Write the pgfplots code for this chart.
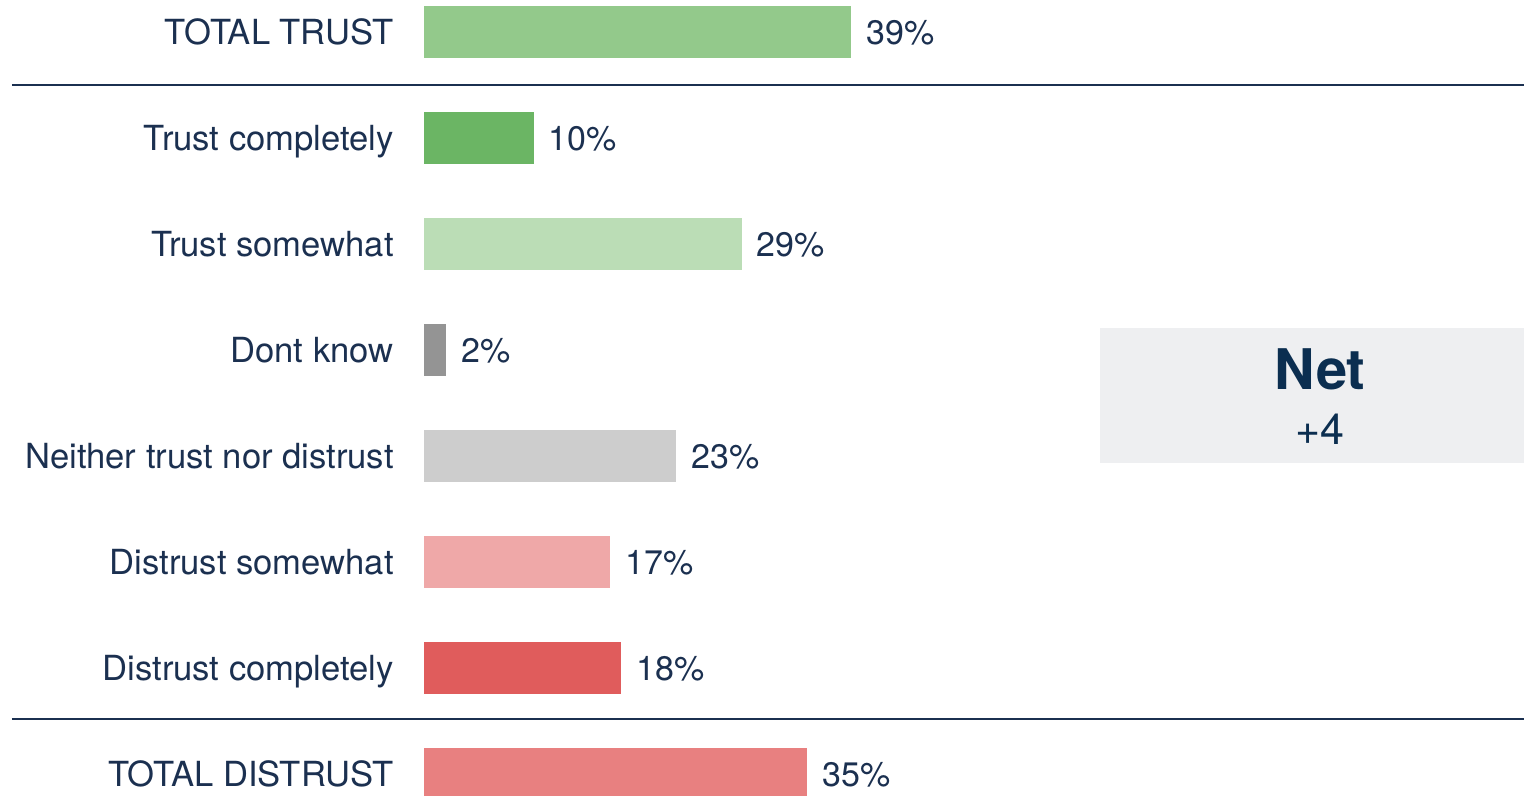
\documentclass[border=0pt]{standalone}
\usepackage{pgfplots}
\pgfplotsset{compat=1.18}
\usepackage{fontspec}
\setmainfont{TeX Gyre Heros}
\definecolor{txt}{HTML}{1B3050}
\definecolor{nettxt}{HTML}{0B2E50}
\definecolor{netbg}{HTML}{EEEFF1}
\definecolor{cTT}{HTML}{93C98B}
\definecolor{cTC}{HTML}{6BB564}
\definecolor{cTS}{HTML}{BBDDB6}
\definecolor{cDK}{HTML}{949494}
\definecolor{cNE}{HTML}{CDCDCD}
\definecolor{cDS}{HTML}{EFA8A8}
\definecolor{cDC}{HTML}{E05C5C}
\definecolor{cTD}{HTML}{E88080}
\tikzset{catlab/.style={anchor=east, inner sep=0pt, font=\fontsize{17.3pt}{20pt}\selectfont, text=txt, text height=12.4pt, text depth=0pt}}
\pgfplotsset{mybar/.style={xbar, bar width=0.49, bar shift=0pt, draw=none, point meta=x,
    nodes near coords={\pgfmathprintnumber{\pgfplotspointmeta}\%},
    every node near coord/.style={anchor=west, inner sep=0pt, xshift=7.5pt,
      font=\fontsize{17pt}{20pt}\selectfont, text=txt, text height=12.2pt, text depth=0pt}}}
\begin{document}
\begin{tikzpicture}
\begin{axis}[
  scale only axis, width=762pt, height=398pt,
  xmin=-38.721, xmax=100.457,
  ymin=-0.3019, ymax=7.2075, y dir=reverse,
  hide axis, clip=false,
  /pgf/number format/assume math mode=true,
]
\fill[netbg] (axis cs:61.74,2.792) rectangle (axis cs:100.457,4.066);
\node[anchor=base, inner sep=0pt, text=nettxt, font=\fontsize{28pt}{32pt}\selectfont\bfseries] at (axis cs:81.83,3.368) {Net};
\node[anchor=base, inner sep=0pt, text=nettxt, font=\fontsize{21.5pt}{25pt}\selectfont] at (axis cs:81.83,3.887) {+4};

\addplot[mybar, fill=cTT] coordinates {(39,0)};
\addplot[mybar, fill=cTC] coordinates {(10,1)};
\addplot[mybar, fill=cTS] coordinates {(29,2)};
\addplot[mybar, fill=cDK] coordinates {(2,3)};
\addplot[mybar, fill=cNE] coordinates {(23,4)};
\addplot[mybar, fill=cDS] coordinates {(17,5)};
\addplot[mybar, fill=cDC] coordinates {(18,6)};
\addplot[mybar, fill=cTD] coordinates {(35,7)};

\node[catlab] at (axis cs:-2.74,0) {TOTAL TRUST};
\node[catlab] at (axis cs:-2.74,1) {Trust completely};
\node[catlab] at (axis cs:-2.74,2) {Trust somewhat};
\node[catlab] at (axis cs:-2.74,3) {Dont know};
\node[catlab] at (axis cs:-2.74,4) {Neither trust nor distrust};
\node[catlab] at (axis cs:-2.74,5) {Distrust somewhat};
\node[catlab] at (axis cs:-2.74,6) {Distrust completely};
\node[catlab] at (axis cs:-2.74,7) {TOTAL DISTRUST};

\draw[txt, line width=1.1pt] (axis cs:-37.63,0.5) -- (axis cs:100.457,0.5);
\draw[txt, line width=1.1pt] (axis cs:-37.63,6.481) -- (axis cs:100.457,6.481);
\end{axis}
\pgfresetboundingbox
\useasboundingbox (current axis.south west) rectangle (current axis.north east);
\end{tikzpicture}
\end{document}
